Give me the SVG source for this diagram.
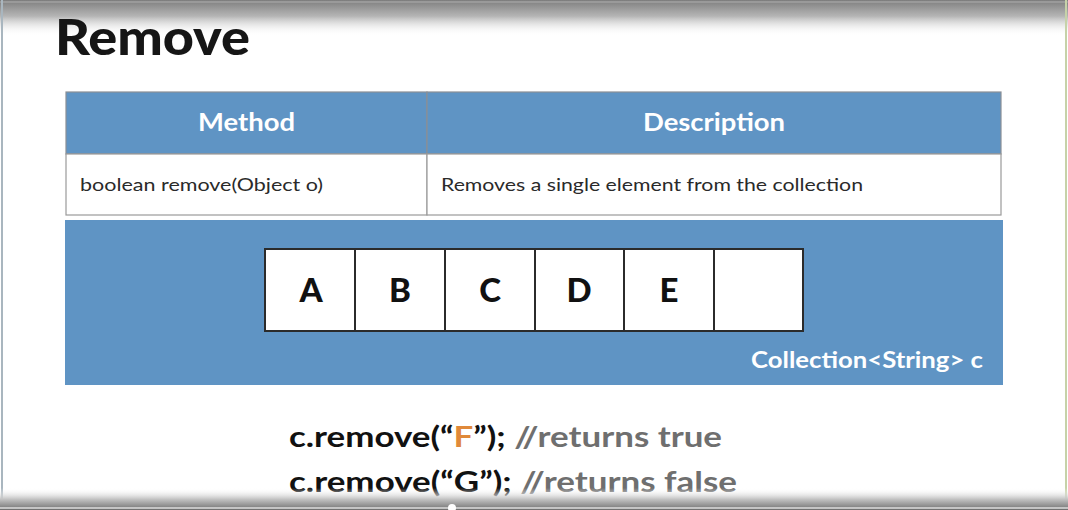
<svg xmlns="http://www.w3.org/2000/svg" width="1068" height="510" viewBox="0 0 1068 510">
  <defs>
    <linearGradient id="topShade" x1="0" y1="0" x2="0" y2="1">
      <stop offset="0" stop-color="#7d7d7d"/>
      <stop offset="0.45" stop-color="#b5b5b5"/>
      <stop offset="1" stop-color="#ffffff" stop-opacity="0"/>
    </linearGradient>
    <linearGradient id="bottomShade" x1="0" y1="0" x2="0" y2="1">
      <stop offset="0" stop-color="#ffffff" stop-opacity="0"/>
      <stop offset="0.5" stop-color="#c4c4c4"/>
      <stop offset="1" stop-color="#6e6e6e"/>
    </linearGradient>
    <style>
      .title { font-family: Lato, "Open Sans", sans-serif; font-weight: 900; font-size: 50px; fill: #161616; }
      .head { fill: #5f94c4; stroke: #8a8f96; stroke-width: 1.2; }
      .cell { fill: #ffffff; stroke: #9a9a9a; stroke-width: 1.2; }
      .headText { font-family: Lato, "Open Sans", sans-serif; font-weight: 700; font-size: 25px; fill: #ffffff; }
      .rowText { font-family: Lato, "Open Sans", sans-serif; font-size: 18px; fill: #2a2a2a; }
      .slot { fill: #ffffff; stroke: #2b2b2b; stroke-width: 2; }
      .slotText { font-family: Lato, "Open Sans", sans-serif; font-weight: 900; font-size: 33px; fill: #111111; text-anchor: middle; }
      .label { font-family: Lato, "Open Sans", sans-serif; font-weight: 700; font-size: 23px; fill: #ffffff; }
      .code { font-family: Lato, "Open Sans", sans-serif; font-weight: 700; font-size: 29px; fill: #111111; }
      .comment { fill: #6f6f6f; }
      .hl { fill: #e0893a; }
    </style>
  </defs>

  <rect width="1068" height="510" fill="#ffffff"/>
  <rect x="0" y="0" width="1068" height="36" fill="url(#topShade)"/>
  <line x1="0" y1="2" x2="1068" y2="2" stroke="#9a9a9a" stroke-width="2"/>
  <line x1="2" y1="0" x2="2" y2="510" stroke="#a9b6bf" stroke-width="2"/>
  <line x1="1066" y1="0" x2="1066" y2="510" stroke="#c6d2a8" stroke-width="2"/>

  <text class="title" x="55" y="55" textLength="195" lengthAdjust="spacingAndGlyphs">Remove</text>

  <!-- method table -->
  <g id="table">
    <rect class="head" x="66" y="92" width="361" height="62"/>
    <rect class="head" x="427" y="92" width="574" height="62"/>
    <rect class="cell" x="66" y="154" width="361" height="61"/>
    <rect class="cell" x="427" y="154" width="574" height="61"/>
    <text class="headText" x="198" y="131" textLength="97" lengthAdjust="spacingAndGlyphs">Method</text>
    <text class="headText" x="643" y="131" textLength="142" lengthAdjust="spacingAndGlyphs">Description</text>
    <text class="rowText" x="80" y="191" textLength="243" lengthAdjust="spacingAndGlyphs">boolean remove(Object o)</text>
    <text class="rowText" x="441" y="191" textLength="422" lengthAdjust="spacingAndGlyphs">Removes a single element from the collection</text>
  </g>

  <!-- collection panel -->
  <g id="collection">
    <rect x="65" y="220" width="938" height="165" fill="#5f94c4"/>
    <g id="slots">
      <rect class="slot" x="265" y="249" width="90" height="82"/>
      <rect class="slot" x="355" y="249" width="90" height="82"/>
      <rect class="slot" x="445" y="249" width="90" height="82"/>
      <rect class="slot" x="535" y="249" width="89" height="82"/>
      <rect class="slot" x="624" y="249" width="90" height="82"/>
      <rect class="slot" x="714" y="249" width="89" height="82"/>
      <text class="slotText" x="311" y="302">A</text>
      <text class="slotText" x="400" y="302">B</text>
      <text class="slotText" x="490" y="302">C</text>
      <text class="slotText" x="579" y="302">D</text>
      <text class="slotText" x="669" y="302">E</text>
    </g>
    <text class="label" x="751" y="368" textLength="232" lengthAdjust="spacingAndGlyphs">Collection&lt;String&gt; c</text>
  </g>

  <!-- example calls -->
  <g id="code">
    <text class="code" x="289" y="447" textLength="433" lengthAdjust="spacingAndGlyphs">c.remove(“<tspan class="hl">F</tspan>”); <tspan class="comment">//returns true</tspan></text>
    <text class="code" x="289" y="492" textLength="448" lengthAdjust="spacingAndGlyphs">c.remove(“G”); <tspan class="comment">//returns false</tspan></text>
  </g>

  <rect x="0" y="488" width="1068" height="22" fill="url(#bottomShade)"/>
  <line x1="0" y1="508" x2="1068" y2="508" stroke="#dcdcdc" stroke-width="1.5"/>
  <circle cx="452" cy="508" r="4" fill="#ffffff"/>
</svg>
